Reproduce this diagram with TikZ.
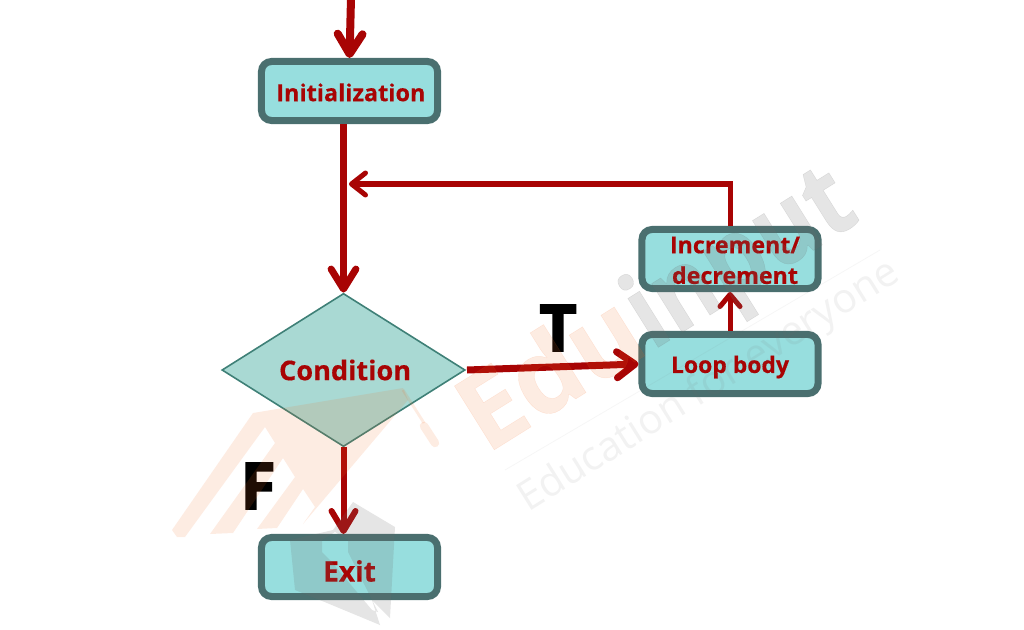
\documentclass[tikz,border=0pt]{standalone}
\usepackage{fontspec}
\usepackage{tikz}
\usetikzlibrary{arrows.meta,positioning,shapes.geometric}
\setmainfont{Open Sans}[BoldFeatures={FakeBold=0.4}]
\newfontfamily\heavyfont[FakeBold=2.5]{Open Sans}
\definecolor{flowred}{HTML}{A80404}
\definecolor{boxfill}{HTML}{97DEDE}
\definecolor{boxline}{HTML}{4A6F6F}
\definecolor{condfill}{HTML}{A9D9D3}
\definecolor{condline}{HTML}{3F8077}
\definecolor{markorange}{HTML}{F26A21}
\definecolor{markgray}{HTML}{6E6E6E}
% extra room above a label pushes it down inside its box
\newcommand{\lowered}[2]{\raisebox{0pt}[\dimexpr\height+#1\relax]{#2}}
\tikzset{
  stepbox/.style={draw=boxline, fill=boxfill, line width=7*0.7113pt, rounded corners=0.25cm,
    minimum width=4.4cm, minimum height=1.475cm, inner sep=0pt, text=flowred, align=center,
    font=\bfseries\fontsize{16.5}{21.8}\selectfont},
  flow/.style={draw=flowred, line width=#1*0.7113pt},
  flow/.default=7,
}
\begin{document}
\begin{tikzpicture}[x=0.025cm, y=-0.025cm]
\useasboundingbox (0,0) rectangle (1024,630);

\node[stepbox, font=\bfseries\fontsize{16.7}{21}\selectfont] (init) at (349.5,91) {\hspace*{0.07cm}\lowered{2pt}{Initialization}};
\node[draw=condline, fill=condfill, line width=1.6*0.7113pt, diamond, aspect=1.59, inner sep=0pt,
  minimum width=6.08cm, minimum height=3.83cm, text=flowred,
  font=\bfseries\fontsize{19.3}{23}\selectfont] (cond) at (343.5,370) {\hspace*{0.08cm}Condition};
\node[stepbox] (incr) at (730,259) {\hspace*{0.25cm}\lowered{2pt}{Increment/}\\\hspace*{0.25cm}decrement};
\node[stepbox, font=\bfseries\fontsize{16.3}{21}\selectfont] (loop) at (730,364) {\lowered{4.3pt}{Loop body}};
\node[stepbox, font=\bfseries\fontsize{20}{24}\selectfont] (exit) at (349.5,567) {\lowered{5.7pt}{Exit}};

\node[font=\heavyfont\bfseries\fontsize{46}{46}\selectfont] (tlabel) at (558,328) {T};
\node[font=\heavyfont\bfseries\fontsize{46}{46}\selectfont] (flabel) at (258,486) {F};

\coordinate (start) at (351,-2);
\coordinate (back) at (349,184);
\coordinate (condout) at (467,370);

\draw[flow=8, -{Straight Barb[round,length=0.5cm,width=0.62cm]}] (start) -- (init.north);
\draw[flow=7, -{Straight Barb[round,length=0.5cm,width=0.62cm]}] (init.south -| cond.north) -- (cond.north);
\draw[flow=5, -{Straight Barb[round,length=0.35cm,width=0.55cm]}] (incr.north) |- (back);
\draw[flow=7, -{Straight Barb[round,length=0.45cm,width=0.65cm]}] (condout) -- (loop.west);
\draw[flow=5, -{Straight Barb[round,length=0.3cm,width=0.5cm]}] (loop.north) -- (incr.south);
\draw[flow=6, -{Straight Barb[round,length=0.5cm,width=0.6cm]}] (cond.south) -- (cond.south |- exit.north);

% logo across the chart
\fill[markorange, opacity=0.13, line join=round] (172,530) -- (253,413) -- (403,388) -- (408,400) -- (303,524)
  -- (315,507) -- (303,489) -- (277,528) -- (257,529) -- (295,477) -- (283,458) -- (233,533) -- (210,534)
  -- (275,443) -- (265,427) -- (185,537) -- (177,537) -- cycle;
\draw[markorange, opacity=0.13, line width=2pt] (403,390) -- (424,423);
\draw[markorange, opacity=0.13, line width=6pt, line cap=round] (424,426) -- (435,443);
\fill[markgray, opacity=0.18, even odd rule] (290,540) -- (333,530) -- (353,502) -- (395,527) -- (390,618)
  -- (372,600) -- (380,625) -- (327,603) -- (295,590) -- cycle
  (322,540) -- (335,532) -- (348,540) -- (348,552) -- (378,612) -- (372,610) -- (330,560) -- (322,552) -- cycle;
\node[rotate=32, anchor=base west, inner sep=0pt, text=markorange, opacity=0.13,
  font=\bfseries\fontsize{75}{75}\selectfont] (markedu) at (486,455) {Edu};
\node[rotate=32, anchor=base west, inner sep=0pt, text=markgray, opacity=0.18,
  font=\bfseries\fontsize{75}{75}\selectfont] (markinput) at (markedu.base east) {\scalebox{0.875}[1]{input}};
\draw[markgray, opacity=0.06, line width=0.6pt] (505,470) -- (880,250);
\node[rotate=32, anchor=base west, inner sep=0pt, text=markgray, opacity=0.09,
  font=\fontsize{29}{29}\selectfont] (marktag) at (528,513) {Education for everyone};
\end{tikzpicture}
\end{document}
